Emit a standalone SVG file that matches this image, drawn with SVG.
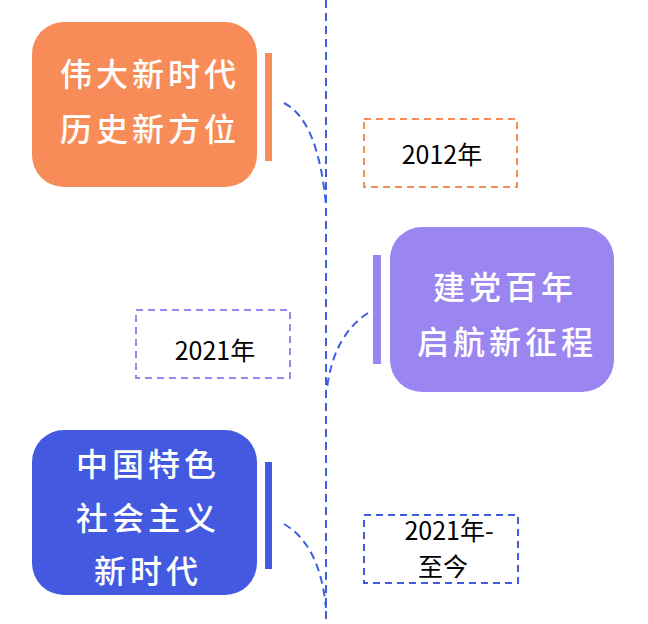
<svg xmlns="http://www.w3.org/2000/svg" width="648" height="624" viewBox="0 0 648 624">
<style>
.title{font-family:"Noto Sans CJK SC","Noto Sans",sans-serif;font-weight:500;fill:#ffffff;font-size:32px;text-anchor:middle;letter-spacing:4px}
.year{font-family:"Noto Sans CJK SC","Noto Sans",sans-serif;fill:#000;font-size:25px;text-anchor:middle}
.conn{fill:none;stroke:#3f5fe0;stroke-width:2;stroke-dasharray:8 5}
</style>
<rect width="648" height="624" fill="#ffffff"/>
<g id="connectors">
<line class="conn" x1="326" y1="0" x2="326" y2="620"/>
<path class="conn" d="M284 103 Q318 120 326 205"/>
<path class="conn" d="M368 313 Q334 335 327 388"/>
<path class="conn" d="M284 524 Q320 545 326 608"/>
</g>
<g id="node-1">
<rect x="32" y="22" width="225" height="165" rx="32" fill="#f78c58"/>
<rect x="265" y="53" width="7" height="108" fill="#f78c58"/>
<text class="title" x="150" y="86">伟大新时代</text>
<text class="title" x="150" y="141">历史新方位</text>
</g>
<g id="year-2012">
<rect x="364" y="119" width="153" height="68" fill="none" stroke="#f78c58" stroke-width="2" stroke-dasharray="7 5"/>
<text class="year" x="442" y="164">2012年</text>
</g>
<g id="node-2">
<rect x="390" y="227" width="224" height="165" rx="32" fill="#9b86f1"/>
<rect x="373" y="255" width="8" height="109" fill="#9b86f1"/>
<text class="title" x="505" y="299">建党百年</text>
<text class="title" x="507" y="354">启航新征程</text>
</g>
<g id="year-2021">
<rect x="136" y="310" width="154" height="68" fill="none" stroke="#9b86f1" stroke-width="2" stroke-dasharray="7 5"/>
<text class="year" x="215" y="360">2021年</text>
</g>
<g id="node-3">
<rect x="32" y="430" width="225" height="165" rx="32" fill="#435ae0"/>
<rect x="265" y="462" width="7" height="107" fill="#435ae0"/>
<text class="title" x="148" y="476">中国特色</text>
<text class="title" x="148" y="530">社会主义</text>
<text class="title" x="148" y="583">新时代</text>
</g>
<g id="year-now">
<rect x="364" y="515" width="154" height="68" fill="none" stroke="#435ae0" stroke-width="2" stroke-dasharray="7 5"/>
<text class="year" x="449" y="540">2021年-</text>
<text class="year" x="443" y="576">至今</text>
</g>
</svg>
